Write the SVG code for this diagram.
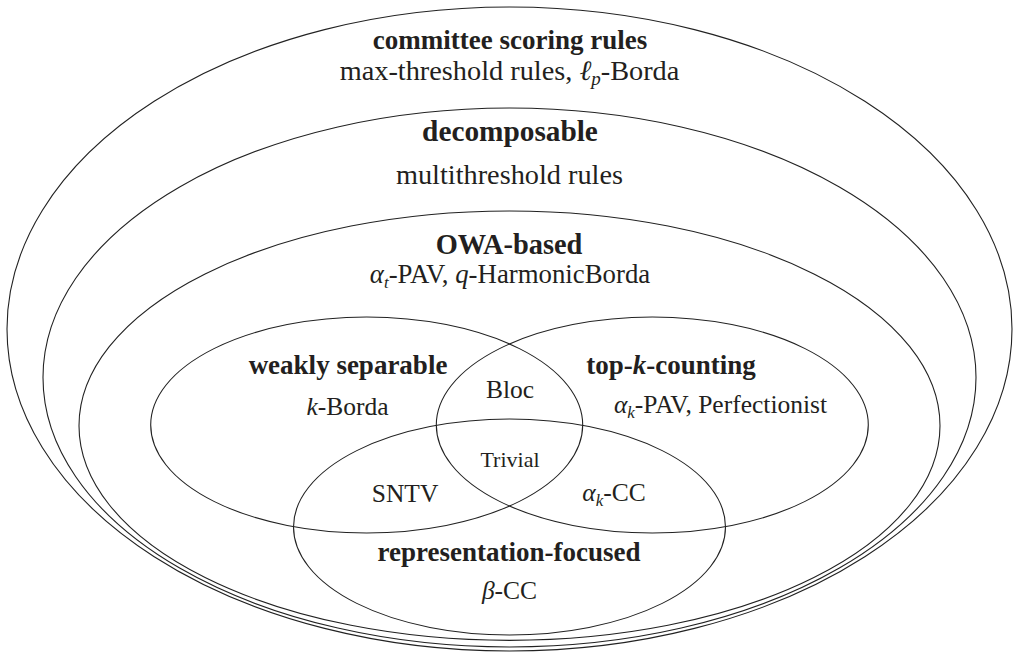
<svg xmlns="http://www.w3.org/2000/svg" width="1016" height="654" viewBox="0 0 1016 654">
<style>
.e{fill:none;stroke:#222;stroke-width:1.1}
text{font-family:"Liberation Serif","Times New Roman",serif;fill:#231f20;text-anchor:middle}
.b{font-weight:bold;font-size:27px}
.r{font-size:25.5px}
.s{font-size:22px}
.i{font-style:italic}
.sub{font-style:italic;font-size:17px}
</style>
<rect width="1016" height="654" fill="#fff"/>
<g id="committee-scoring-rules">
<ellipse class="e" cx="509.5" cy="329" rx="502.5" ry="322"/>
<text class="b" x="510" y="49">committee scoring rules</text>
<text class="r" x="509.5" y="80" style="font-size:28.3px">max-threshold rules, <tspan class="i">ℓ</tspan><tspan class="sub" dy="5" style="font-size:19px">p</tspan><tspan dy="-5">-Borda</tspan></text>
</g>
<g id="decomposable">
<ellipse class="e" cx="509.5" cy="377.5" rx="466.5" ry="269.5"/>
<text class="b" x="510" y="141" style="font-size:29.3px">decomposable</text>
<text class="r" x="509.5" y="184" style="font-size:28.3px">multithreshold rules</text>
</g>
<g id="owa-based">
<ellipse class="e" cx="509.5" cy="425.7" rx="430.5" ry="214.7"/>
<text class="b" x="509" y="254" style="font-size:28.4px">OWA-based</text>
<text class="r" x="510" y="283" style="font-size:26.8px"><tspan class="i">α</tspan><tspan class="sub" dy="5">t</tspan><tspan dy="-5">-PAV, </tspan><tspan class="i">q</tspan>-HarmonicBorda</text>
</g>
<g id="weakly-separable">
<ellipse class="e" cx="366.7" cy="425" rx="216" ry="108"/>
<text class="b" x="348" y="374">weakly separable</text>
<text class="r" x="347.5" y="415"><tspan class="i">k</tspan>-Borda</text>
</g>
<g id="top-k-counting">
<ellipse class="e" cx="652.3" cy="425" rx="216" ry="108"/>
<text class="b" x="671" y="374">top-<tspan class="i">k</tspan>-counting</text>
<text class="r" x="720.5" y="413"><tspan class="i">α</tspan><tspan class="sub" dy="5">k</tspan><tspan dy="-5">-PAV, Perfectionist</tspan></text>
</g>
<g id="representation-focused">
<ellipse class="e" cx="509.5" cy="527" rx="216" ry="108"/>
<text class="b" x="509" y="561">representation-focused</text>
<text class="r" x="509.5" y="599"><tspan class="i">β</tspan>-CC</text>
</g>
<g id="intersections">
<text class="r" x="510" y="398">Bloc</text>
<text class="s" x="510" y="467">Trivial</text>
<text class="r" x="405" y="502">SNTV</text>
<text class="r" x="614" y="501"><tspan class="i">α</tspan><tspan class="sub" dy="5">k</tspan><tspan dy="-5">-CC</tspan></text>
</g>
</svg>
